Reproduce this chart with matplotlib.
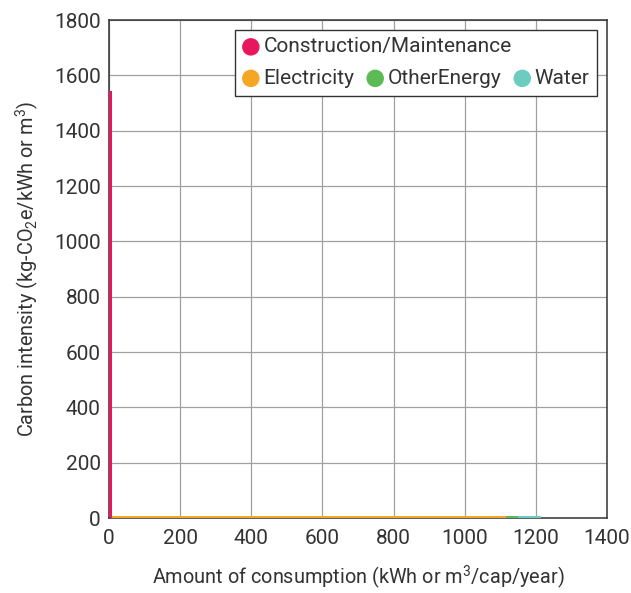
import numpy as np
import matplotlib
matplotlib.use("Agg")
import matplotlib.pyplot as plt
from matplotlib.offsetbox import (AnchoredOffsetbox, DrawingArea, HPacker,
                                  TextArea, VPacker)
from matplotlib.patches import Circle

plt.rcParams['font.family'] = ['Roboto', 'DejaVu Sans']
plt.rcParams['mathtext.fontset'] = 'custom'
plt.rcParams['mathtext.rm'] = 'Roboto'
plt.rcParams['mathtext.it'] = 'Roboto'

# consumption (bar width) and carbon intensity (bar height) per category
categories = ['Construction/Maintenance', 'Electricity', 'OtherEnergy', 'Water']
consumption = [8, 1107, 36, 63]
intensity = [1545, 8, 8, 8]
colors = ['#e8175d', '#f5a623', '#5dbb55', '#6cccc0']

x_ticks = [0, 200, 400, 600, 800, 1000, 1200, 1400]
y_ticks = [0, 200, 400, 600, 800, 1000, 1200, 1400, 1600, 1800]

text_col = '#333333'
fs = 14.3
tick_fs = 15

fig = plt.figure(figsize=(6.31, 5.93), dpi=100)
ax = fig.add_axes([109 / 631, 1 - 518 / 593, 498 / 631, 498 / 593])

lefts = np.concatenate([[0], np.cumsum(consumption)[:-1]])
ax.bar(lefts, intensity, width=consumption, align='edge', color=colors,
       linewidth=0, zorder=3)

ax.set_xlim(0, 1400)
ax.set_ylim(0, 1800)
ax.set_xticks(x_ticks)
ax.set_yticks(y_ticks)
ax.grid(True, color='#a0a0a0', linewidth=0.9, zorder=0)
ax.tick_params(axis='x', length=0, labelsize=tick_fs, colors=text_col, pad=8)
ax.tick_params(axis='y', length=0, labelsize=tick_fs, colors=text_col, pad=6)
for s in ax.spines.values():
    s.set_color('#333333')
    s.set_linewidth(1.1)
    s.set_zorder(2)

ax.set_xlabel('Amount of consumption (kWh or m$^3$/cap/year)', fontsize=fs,
              color=text_col, labelpad=11)
ax.set_ylabel('Carbon intensity (kg-CO$_2$e/kWh or m$^3$)', fontsize=fs,
              color=text_col, labelpad=9)


# legend: first row holds one entry, second row the other three
def entry(label, color):
    da = DrawingArea(12, 12, 0, 0)
    da.add_artist(Circle((6, 6), 5.8, color=color))
    ta = TextArea(label, textprops=dict(fontsize=15, color=text_col))
    return HPacker(children=[da, ta], align='center', pad=0, sep=3)


row1 = HPacker(children=[entry(categories[0], colors[0])], pad=0, sep=0)
row2 = HPacker(children=[entry(c, col) for c, col in zip(categories[1:], colors[1:])],
               align='center', pad=0, sep=9)
box = VPacker(children=[row1, row2], align='left', pad=0, sep=9)
anchored = AnchoredOffsetbox(loc='upper right', child=box, pad=0.55,
                             borderpad=0.7, frameon=True,
                             bbox_to_anchor=(1, 1), bbox_transform=ax.transAxes)
anchored.patch.set_edgecolor('#333333')
anchored.patch.set_linewidth(1.0)
anchored.patch.set_boxstyle('square', pad=0)
anchored.zorder = 5
ax.add_artist(anchored)

fig.savefig('out.png', dpi=100)
